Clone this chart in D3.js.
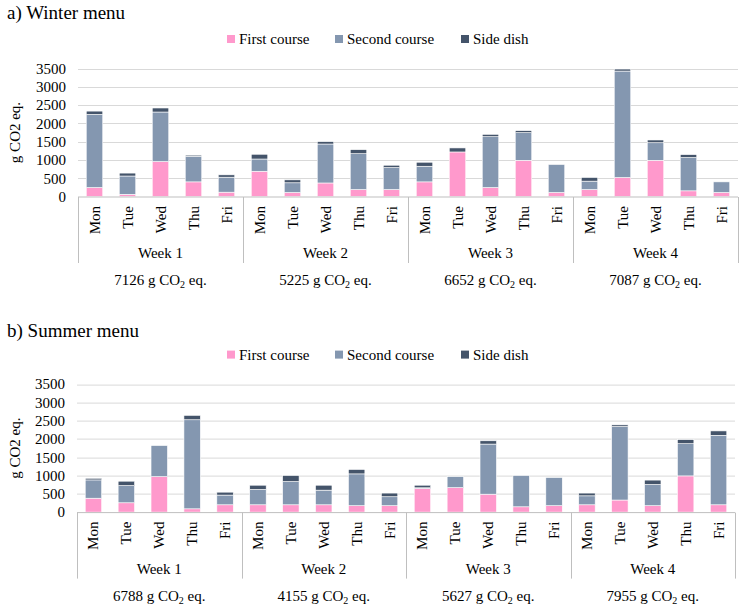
<!DOCTYPE html>
<html>
<head>
<meta charset="utf-8">
<script src="https://cdn.jsdelivr.net/npm/d3@7"></script>
<style>
  body { margin: 0; background: #fff; }
</style>
</head>
<body>
<div id="chart"></div>
<script>
const FONT = "Liberation Serif";

// Categories
const days = ["Mon", "Tue", "Wed", "Thu", "Fri"];
const weeks = ["Week 1", "Week 2", "Week 3", "Week 4"];
const series = ["First course", "Second course", "Side dish"];
const yTicks = [0, 500, 1000, 1500, 2000, 2500, 3000, 3500];

// Winter menu (g CO2 eq.), 4 weeks x 5 days
const winterFirst  = [245, 60, 955, 400, 118,  690, 110, 370, 190, 190,  400, 1218, 245, 990, 110,  190, 520, 990, 155, 110];
const winterSecond = [2000, 500, 1355, 700, 410,  335, 265, 1065, 980, 600,  427, 0, 1390, 755, 770,  230, 2910, 480, 910, 290];
const winterSide   = [90, 80, 110, 30, 64,  130, 80, 65, 110, 65,  110, 110, 65, 55, 5,  100, 55, 75, 80, 0];
const winterTotals = ["7126", "5225", "6652", "7087"];

// Summer menu (g CO2 eq.)
const summerFirst  = [380, 255, 970, 90, 200,  200, 200, 200, 175, 175,  645, 670, 490, 145, 175,  200, 330, 175, 990, 200];
const summerSecond = [500, 470, 850, 2435, 265,  420, 635, 400, 870, 245,  20, 300, 1370, 855, 770,  245, 2010, 580, 880, 1900];
const summerSide   = [45, 120, 0, 120, 80,  115, 165, 135, 120, 100,  70, 0, 90, 0, 0,  75, 45, 120, 110, 120];
const summerTotals = ["6788", "4155", "5627", "7955"];

const colors = d3.scaleOrdinal().domain(series).range(["#ff99cc", "#8497b0", "#44546a"]);

const svg = d3.select("#chart").append("svg")
    .attr("width", 743)
    .attr("height", 612)
    .attr("font-family", FONT);

// helper so every label gets the serif font
function label(sel, size) {
    return sel.append("text")
        .attr("font-family", FONT)
        .attr("font-size", size)
        .attr("fill", "#000");
}

function drawPanel(opts) {
    const g = svg.append("g").attr("transform", `translate(0,${opts.top})`);

    // rows for stacking
    const rows = opts.first.map((v, i) => ({
        key: weeks[Math.floor(i / 5)] + "-" + days[i % 5],
        day: days[i % 5],
        "First course": v,
        "Second course": opts.second[i],
        "Side dish": opts.side[i]
    }));
    const stacked = d3.stack().keys(series)(rows);

    const x = d3.scaleBand()
        .domain(rows.map(d => d.key))
        .range([opts.left, opts.right])
        .paddingInner(0.5)
        .paddingOuter(0.25);

    const xWeek = d3.scaleBand()
        .domain(weeks)
        .range([opts.left, opts.right]);

    const y = d3.scaleLinear()
        .domain([0, 3500])
        .range([196.5, 68.5]);

    // Title
    label(g, 19)
        .attr("x", 7)
        .attr("y", opts.titleY)
        .text(opts.title);

    // Legend
    const legendX = [227, 335, 461];
    const leg = g.selectAll(".legend")
        .data(series)
        .enter()
        .append("g")
        .attr("class", "legend")
        .attr("transform", (d, i) => `translate(${legendX[i]},0)`);
    leg.append("rect")
        .attr("x", 0).attr("y", 35)
        .attr("width", 8).attr("height", 8)
        .attr("fill", d => colors(d));
    leg.each(function (d) {
        label(d3.select(this), 15).attr("x", 12).attr("y", 44).text(d);
    });

    // Gridlines
    g.append("g")
        .selectAll("line")
        .data(yTicks.filter(d => d > 0))
        .enter()
        .append("line")
        .attr("x1", opts.left)
        .attr("x2", opts.right)
        .attr("y1", d => Math.round(y(d)) + 0.5)
        .attr("y2", d => Math.round(y(d)) + 0.5)
        .attr("stroke", "#d9d9d9")
        .attr("stroke-width", 1);

    // Y axis labels
    const yAxis = g.append("g")
        .attr("transform", `translate(${opts.left},0)`)
        .call(d3.axisLeft(y).tickValues(yTicks).tickFormat(d3.format("d")).tickSize(0).tickPadding(12));
    yAxis.attr("font-family", FONT).attr("font-size", 15);
    yAxis.select(".domain").remove();
    yAxis.selectAll("text")
        .attr("font-family", FONT)
        .attr("font-size", 15)
        .attr("fill", "#000");

    label(g, 15)
        .attr("transform", "rotate(-90)")
        .attr("x", -y(1750))
        .attr("y", 15)
        .attr("text-anchor", "middle")
        .attr("dominant-baseline", "central")
        .text("g CO2 eq.");

    // Bars
    g.append("g")
        .selectAll("g")
        .data(stacked)
        .enter()
        .append("g")
        .attr("fill", d => colors(d.key))
        .selectAll("rect")
        .data(d => d)
        .enter()
        .append("rect")
        .attr("x", d => x(d.data.key))
        .attr("width", x.bandwidth())
        .attr("y", d => y(d[1]))
        .attr("height", d => Math.max(0, y(d[0]) - y(d[1])))
        .attr("stroke", "#ffffff")
        .attr("stroke-width", 0.6);

    // Category axis line
    const axisCol = "#bfbfbf";
    g.append("line")
        .attr("x1", opts.left).attr("x2", opts.right)
        .attr("y1", 197).attr("y2", 197)
        .attr("stroke", axisCol);

    // Week separators
    const seps = weeks.map(w => xWeek(w)).concat([opts.right]);
    g.append("g")
        .selectAll("line")
        .data(seps)
        .enter()
        .append("line")
        .attr("x1", d => Math.round(d) + 0.5)
        .attr("x2", d => Math.round(d) + 0.5)
        .attr("y1", 197)
        .attr("y2", 263)
        .attr("stroke", axisCol);

    // Day labels (rotated)
    const dayG = g.append("g");
    rows.forEach(d => {
        label(dayG, 15)
            .attr("transform", `translate(${x(d.key) + x.bandwidth() / 2},206) rotate(-90)`)
            .attr("text-anchor", "end")
            .attr("dominant-baseline", "central")
            .text(d.day);
    });

    // Week labels and weekly totals
    const weekG = g.append("g");
    weeks.forEach((w, i) => {
        const cx = xWeek(w) + xWeek.bandwidth() / 2;
        label(weekG, 15)
            .attr("x", cx)
            .attr("y", 258)
            .attr("text-anchor", "middle")
            .text(w);

        const tot = label(weekG, 15)
            .attr("x", cx)
            .attr("y", 285)
            .attr("text-anchor", "middle");
        tot.append("tspan").text(opts.totals[i] + " g CO");
        tot.append("tspan").attr("dy", 3).attr("font-size", 10).text("2");
        tot.append("tspan").attr("dy", -3).text(" eq.");
    });
}

drawPanel({
    top: 0, left: 78, right: 738, titleY: 19,
    title: "a) Winter menu",
    first: winterFirst, second: winterSecond, side: winterSide,
    totals: winterTotals
});

drawPanel({
    top: 315.6, left: 77, right: 735, titleY: 21,
    title: "b) Summer menu",
    first: summerFirst, second: summerSecond, side: summerSide,
    totals: summerTotals
});
</script>
</body>
</html>
